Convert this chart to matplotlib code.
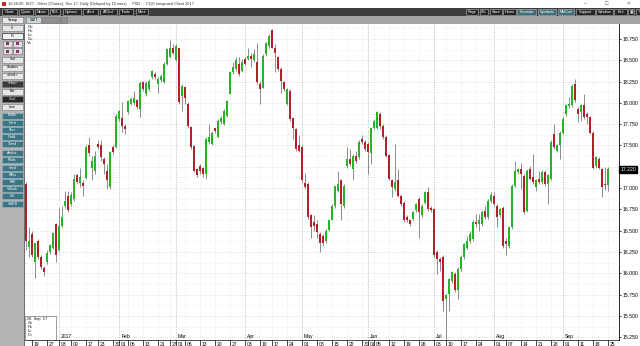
import pandas as pd
import matplotlib
matplotlib.use("Agg")
import matplotlib.pyplot as plt
from matplotlib.patches import Rectangle

plt.rcParams['font.family'] = ['Liberation Sans', 'DejaVu Sans']

# daily OHLC, SIZ7 (Silver, Dec 17)
opens = [17.05, 16.31, 16.46, 16.13, 16.38, 16.19, 16.06, 16.13, 16.25, 16.30,
         16.58, 16.27, 16.56, 16.79, 16.91, 16.81, 16.87, 17.15, 17.06, 17.06,
         17.12, 17.50, 17.24, 17.20, 17.52, 17.50, 17.34, 17.20, 17.01, 17.48,
         17.48, 17.81, 17.82, 17.73, 17.89, 17.99, 18.00, 18.03, 17.93, 18.24,
         18.10, 18.16, 18.30, 18.34, 18.22, 18.27, 18.24, 18.46, 18.54, 18.65,
         18.50, 18.64, 18.08, 18.19, 17.99, 17.72, 17.49, 17.22, 17.26, 17.24,
         17.17, 17.54, 17.52, 17.70, 17.60, 17.77, 17.75, 17.85, 18.10, 18.36,
         18.40, 18.46, 18.38, 18.52, 18.51, 18.55, 18.50, 18.48, 18.22, 18.18,
         18.57, 18.67, 18.86, 18.65, 18.54, 18.40, 18.24, 17.99, 18.14, 17.82,
         17.69, 17.50, 17.48, 17.06, 17.05, 16.68, 16.60, 16.58, 16.46, 16.44,
         16.38, 16.51, 16.63, 16.79, 16.97, 17.09, 16.79, 17.26, 17.34, 17.22,
         17.38, 17.36, 17.58, 17.54, 17.52, 17.41, 17.71, 17.71, 17.87, 17.73,
         17.60, 17.39, 17.09, 16.99, 17.09, 16.91, 16.83, 16.66, 16.62, 16.64,
         16.74, 16.87, 16.68, 16.83, 16.96, 16.77, 16.76, 16.25, 16.17, 16.19,
         15.70, 15.76, 15.91, 15.99, 15.80, 16.05, 16.19, 16.30, 16.38, 16.40,
         16.60, 16.58, 16.58, 16.73, 16.66, 16.85, 16.91, 16.79, 16.68, 16.77,
         16.38, 16.32, 16.54, 17.03, 17.19, 17.22, 17.14, 16.73, 17.22, 17.13,
         17.01, 17.11, 17.07, 17.19, 17.05, 17.11, 17.64, 17.44, 17.50, 17.65,
         17.87, 17.96, 17.97, 18.22, 17.93, 17.89, 17.97, 17.87, 17.83, 17.65,
         17.26, 17.34, 17.22, 17.05, 17.04]
highs = [17.07, 16.54, 16.50, 16.36, 16.40, 16.21, 16.08, 16.27, 16.34, 16.48,
         16.59, 16.77, 16.79, 16.97, 16.97, 16.95, 17.17, 17.17, 17.24, 17.09,
         17.50, 17.60, 17.38, 17.44, 17.56, 17.56, 17.36, 17.28, 17.44, 17.50,
         17.87, 17.92, 18.01, 17.75, 18.03, 18.07, 18.14, 18.05, 18.26, 18.26,
         18.26, 18.28, 18.39, 18.36, 18.30, 18.34, 18.48, 18.65, 18.74, 18.69,
         18.69, 18.65, 18.22, 18.20, 18.01, 17.73, 17.50, 17.24, 17.28, 17.25,
         17.60, 17.75, 17.67, 17.71, 17.81, 17.85, 17.93, 18.03, 18.38, 18.48,
         18.54, 18.54, 18.52, 18.54, 18.65, 18.59, 18.63, 18.70, 18.26, 18.57,
         18.71, 18.81, 18.87, 18.69, 18.55, 18.42, 18.26, 18.18, 18.16, 17.83,
         17.71, 17.62, 17.50, 17.18, 17.07, 16.70, 16.68, 16.62, 16.48, 16.46,
         16.52, 16.64, 16.81, 17.03, 17.20, 17.11, 17.05, 17.48, 17.46, 17.40,
         17.44, 17.56, 17.62, 17.56, 17.54, 17.71, 17.81, 17.91, 17.89, 17.75,
         17.62, 17.40, 17.11, 17.52, 17.22, 16.93, 16.85, 16.68, 16.64, 16.73,
         16.83, 16.89, 16.81, 16.97, 17.01, 16.79, 16.77, 16.27, 16.19, 16.21,
         15.76, 15.95, 16.03, 16.01, 16.07, 16.21, 16.36, 16.44, 16.50, 16.62,
         16.70, 16.70, 16.74, 16.79, 16.87, 16.95, 16.95, 16.81, 16.77, 16.79,
         16.42, 16.56, 17.05, 17.32, 17.24, 17.30, 17.17, 17.22, 17.26, 17.40,
         17.11, 17.20, 17.21, 17.21, 17.17, 17.56, 17.75, 17.52, 17.67, 17.83,
         17.99, 18.07, 18.22, 18.28, 17.95, 17.99, 18.10, 17.89, 17.85, 17.67,
         17.38, 17.36, 17.24, 17.25, 17.25]
lows = [16.27, 16.19, 16.19, 15.95, 16.17, 16.05, 15.97, 16.11, 16.23, 16.29,
        16.13, 16.26, 16.54, 16.77, 16.72, 16.79, 16.85, 17.05, 17.01, 16.91,
        17.11, 17.38, 17.09, 17.17, 17.46, 17.32, 17.17, 16.99, 16.99, 17.40,
        17.47, 17.79, 17.66, 17.64, 17.87, 17.97, 17.97, 17.93, 17.84, 18.14,
        18.08, 18.14, 18.28, 18.28, 18.12, 18.25, 18.23, 18.45, 18.53, 18.57,
        18.49, 17.99, 17.91, 17.99, 17.71, 17.46, 17.19, 17.13, 17.17, 17.13,
        17.11, 17.52, 17.50, 17.65, 17.59, 17.75, 17.74, 17.84, 18.10, 18.34,
        18.38, 18.32, 18.36, 18.44, 18.50, 18.42, 18.48, 18.22, 17.99, 18.17,
        18.55, 18.65, 18.64, 18.36, 18.38, 18.12, 18.14, 17.97, 17.79, 17.58,
        17.44, 17.42, 17.07, 16.99, 16.64, 16.42, 16.50, 16.42, 16.25, 16.32,
        16.36, 16.50, 16.62, 16.77, 16.95, 16.62, 16.77, 17.24, 17.26, 17.09,
        17.30, 17.34, 17.52, 17.44, 17.17, 17.28, 17.69, 17.69, 17.69, 17.58,
        17.36, 17.09, 16.89, 16.97, 16.89, 16.79, 16.60, 16.60, 16.56, 16.62,
        16.72, 16.42, 16.66, 16.81, 16.73, 16.72, 16.19, 15.99, 16.03, 15.56,
        15.23, 15.56, 15.89, 15.78, 15.70, 16.03, 16.17, 16.29, 16.36, 16.38,
        16.54, 16.50, 16.56, 16.64, 16.64, 16.83, 16.79, 16.54, 16.66, 16.30,
        16.21, 16.30, 16.52, 17.01, 17.17, 16.99, 16.70, 16.72, 17.09, 17.05,
        16.97, 17.05, 17.05, 17.03, 16.81, 17.09, 17.46, 17.42, 17.34, 17.64,
        17.85, 17.94, 17.95, 18.01, 17.77, 17.79, 17.81, 17.75, 17.64, 17.22,
        17.24, 17.22, 16.89, 16.98, 16.97]
closes = [16.38, 16.38, 16.21, 16.36, 16.19, 16.07, 16.01, 16.24, 16.33, 16.47,
          16.21, 16.56, 16.66, 16.85, 16.74, 16.92, 17.11, 17.07, 17.13, 17.03,
          17.48, 17.41, 17.32, 17.38, 17.48, 17.36, 17.28, 17.09, 17.42, 17.42,
          17.85, 17.90, 17.73, 17.69, 18.02, 18.05, 18.06, 17.95, 18.23, 18.16,
          18.23, 18.26, 18.38, 18.30, 18.28, 18.32, 18.46, 18.63, 18.64, 18.59,
          18.67, 18.01, 18.20, 18.06, 17.73, 17.48, 17.20, 17.15, 17.20, 17.17,
          17.58, 17.60, 17.65, 17.67, 17.79, 17.82, 17.91, 18.02, 18.36, 18.42,
          18.50, 18.34, 18.48, 18.46, 18.55, 18.51, 18.57, 18.24, 18.16, 18.55,
          18.70, 18.79, 18.65, 18.59, 18.40, 18.26, 18.16, 18.16, 17.81, 17.71,
          17.46, 17.44, 17.09, 17.01, 16.66, 16.54, 16.56, 16.48, 16.36, 16.36,
          16.50, 16.62, 16.79, 17.02, 17.05, 16.81, 17.03, 17.34, 17.28, 17.38,
          17.32, 17.54, 17.54, 17.46, 17.42, 17.71, 17.79, 17.89, 17.73, 17.60,
          17.38, 17.11, 17.01, 17.07, 16.91, 16.81, 16.62, 16.62, 16.58, 16.72,
          16.81, 16.72, 16.79, 16.95, 16.76, 16.74, 16.21, 16.17, 16.13, 15.68,
          15.74, 15.93, 16.01, 15.80, 16.05, 16.19, 16.34, 16.38, 16.46, 16.60,
          16.58, 16.62, 16.72, 16.66, 16.85, 16.92, 16.81, 16.66, 16.75, 16.32,
          16.34, 16.54, 17.03, 17.20, 17.22, 17.16, 16.72, 17.20, 17.11, 17.07,
          17.09, 17.07, 17.19, 17.05, 17.15, 17.54, 17.48, 17.50, 17.65, 17.81,
          17.97, 17.99, 18.20, 18.03, 17.87, 17.97, 17.83, 17.83, 17.65, 17.24,
          17.36, 17.24, 17.01, 17.04, 17.22]

holidays = ['2016-12-26', '2017-01-02', '2017-01-16', '2017-02-20', '2017-04-14',
            '2017-05-29', '2017-07-04', '2017-09-04']
dates = pd.bdate_range('2016-12-15', '2017-09-25', freq='C', holidays=holidays)

day_ticks = ['2016-12-19', '2016-12-27', '2017-01-03', '2017-01-09', '2017-01-17',
             '2017-01-23', '2017-01-30', '2017-02-01', '2017-02-06', '2017-02-13',
             '2017-02-21', '2017-02-27', '2017-03-01', '2017-03-06', '2017-03-13',
             '2017-03-20', '2017-03-27', '2017-04-03', '2017-04-10', '2017-04-17',
             '2017-04-24', '2017-05-01', '2017-05-08', '2017-05-15', '2017-05-22',
             '2017-05-30', '2017-06-01', '2017-06-05', '2017-06-12', '2017-06-19',
             '2017-06-26', '2017-07-03', '2017-07-10', '2017-07-17', '2017-07-24',
             '2017-08-01', '2017-08-07', '2017-08-14', '2017-08-21', '2017-08-28',
             '2017-09-01', '2017-09-11', '2017-09-18', '2017-09-25']
month_ticks = ['2017-01-03', '2017-02-01', '2017-03-01', '2017-04-03', '2017-05-01',
               '2017-06-01', '2017-07-03', '2017-08-01', '2017-09-01']
month_names = ['2017', 'Feb', 'Mar', 'Apr', 'May', 'Jun', 'Jul', 'Aug', 'Sep']
price_ticks = [15.25, 15.5, 15.75, 16.0, 16.25, 16.5, 16.75, 17.0, 17.25, 17.5,
               17.75, 18.0, 18.25, 18.5, 18.75]
last_price = 17.22

menu_left = ['Chart', 'Quote', 'News', 'T&S', 'Options', 'Alert', 'AllOrd', 'Trade', 'More']
menu_right = ['Page', '#%', 'Save', 'Home', 'Formula', 'Symbols', 'MktCon', 'Support',
              'Window', 'Exit', '\u25a3', '?']
side_light = ['Scrl', 'Studies', '<Settl>']
side_teal = ['FibBk', 'Herrt', 'Text', 'Grd&', 'Trend', 'Andrw', 'Rhds', 'Hred',
             'PAks', 'RSI', 'VMack', 'Vol', 'VolRS']

W, H = 640, 346
fig = plt.figure(figsize=(W / 100, H / 100), dpi=100)

# ---- window chrome, drawn in pixel coordinates ----
bg = fig.add_axes([0, 0, 1, 1])
bg.set_xlim(0, W)
bg.set_ylim(H, 0)
bg.axis('off')


def box(x, y, w, h, fc, ec='none', lw=0.5):
    bg.add_patch(Rectangle((x, y), w, h, facecolor=fc, edgecolor=ec, linewidth=lw))


def label(x, y, s, size=3.2, color='black', ha='center'):
    bg.text(x, y, s, fontsize=size, color=color, ha=ha, va='center')


box(0, 0, W, H, 'white')
label(8, 3.5, '16:56:00  SIZ7 - Silver (Globex), Dec 17, Daily (Delayed by 10 mins)  \u00b7  PI02  \u00b7  CQG Integrated Client 2017',
      size=2.8, ha='left', color='#333333')
box(1.5, 1.5, 4, 4, '#c03030')
label(585, 3.5, '\u2013', size=4, color='#555555')
label(607, 3.5, '\u25a1', size=4, color='#555555')
label(628, 3.5, '\u00d7', size=4.5, color='#555555')

box(0, 7.5, W, 8.5, '#3d3d3d')
mx = 2
for name in menu_left:
    w = 4 + 2.1 * len(name)
    box(mx, 9, w, 6, '#262626', ec='#bdbdbd', lw=0.4)
    label(mx + w / 2, 12, name, size=2.8, color='white')
    mx += w + 2.2
mx = 466
for name in menu_right:
    w = 4 + 2.1 * len(name)
    fc = '#3e6e7a' if name in ('Formula', 'Symbols', 'MktCon') else '#262626'
    box(mx, 9, w, 6, fc, ec='#bdbdbd', lw=0.4)
    label(mx + w / 2, 12, name, size=2.8, color='white')
    mx += w + 1.5

box(0, 16, W, 8, '#a3a3a3')
box(2, 17, 21, 6, '#e6e6e6', ec='#777777', lw=0.4)
label(12.5, 20, 'Setup', size=2.8)
box(26, 17, 15, 6, '#c9d3da', ec='#777777', lw=0.4)
label(33.5, 20, 'SIZ7', size=2.8)
box(42, 17, 18, 6, '#8f8f8f', ec='#777777', lw=0.4)
box(61, 17, 6, 6, '#8f8f8f', ec='#777777', lw=0.4)

# left tool panel
box(0, 24, 25, H - 24, '#b3b3b3')
box(24, 24, 1, H - 24, '#6f6f6f')
box(2, 25, 21, 6, '#e6e6e6', ec='#777777', lw=0.4)
label(12.5, 28, 'lll', size=2.6)
box(2, 32.5, 21, 6.5, '#f2f2f2', ec='#333333', lw=0.5)
label(12.5, 35.8, 'R', size=2.8)
for yy in (40.5, 48):
    for xx in (3, 13):
        box(xx, yy, 9, 6, '#dedede', ec='#777777', lw=0.4)
        box(xx + 3, yy + 1.5, 3, 3, '#8a2f6a')
sy = 56.5
for name in side_light:
    box(2, sy, 21, 6, '#e6e6e6', ec='#777777', lw=0.4)
    label(12.5, sy + 3, name, size=2.6)
    sy += 8
box(2, sy, 21, 6, '#3a3a3a', ec='#777777', lw=0.4)
label(12.5, sy + 3, '<Hot>', size=2.6, color='white')
sy += 8
for name, fc, tc in (('Bar', '#e6e6e6', 'black'), ('Cndl', '#262626', 'white'),
                     ('Line', '#e6e6e6', 'black')):
    box(2, sy, 21, 6, fc, ec='#777777', lw=0.4)
    label(12.5, sy + 3, name, size=2.6, color=tc)
    sy += 7.5
sy += 1.5
for k, name in enumerate(side_teal):
    box(2, sy, 21, 6, '#3c7585', ec='#9cb7bf', lw=0.4)
    label(12.5, sy + 3, name, size=2.6, color='white')
    sy += 7.2 if k != 4 else 9

# ---- price chart ----
left, right, top, bottom = 25, 619, 24, 339.5
ax = fig.add_axes([left / W, 1 - bottom / H, (right - left) / W, (bottom - top) / H])
ax.set_zorder(2)
ax.set_facecolor('white')

idx = list(range(len(closes)))
pos = {d.strftime('%Y-%m-%d'): i for i, d in enumerate(dates)}
day_pos = [pos[d] for d in day_ticks]
month_pos = [pos[d] for d in month_ticks]

# grid
for p in price_ticks:
    ax.axhline(p, color='#c8c8c8', lw=0.5, ls=(0, (1, 2)), zorder=0)
    ax.axhline(p + 0.125, color='#e2e2e2', lw=0.5, ls=(0, (1, 2)), zorder=0)
for d in day_pos:
    ax.axvline(d, color='#d9d9d9', lw=0.5, ls=(0, (1, 2)), zorder=0)
for d in month_pos:
    ax.axvline(d, color='#b5b5b5', lw=0.6, ls=(0, (1, 2)), zorder=0)

up = [c >= o for o, c in zip(opens, closes)]
ax.vlines(idx, lows, highs, color='#7a7a7a', lw=0.6, zorder=2)
body_lo = [min(o, c) for o, c in zip(opens, closes)]
body_h = [max(abs(c - o), 0.012) for o, c in zip(opens, closes)]
colors = ['#25b425' if u else '#b3202a' for u in up]
ax.bar(idx, body_h, bottom=body_lo, width=0.7, color=colors, linewidth=0, zorder=3)

ax.set_xlim(-0.25, 197.8)
ax.set_ylim(15.223, 18.926)

ax.yaxis.tick_right()
ax.set_yticks(price_ticks)
ax.set_yticklabels(['%.3f' % p if p != 17.25 else '' for p in price_ticks])
ax.tick_params(axis='y', labelsize=3.7, length=1.5, width=0.5, pad=1.2, colors='black')
ax.set_xticks(day_pos)
ax.set_xticklabels([])
ax.tick_params(axis='x', length=5, width=0.5, direction='out', color='black')
for s in ('top', 'left'):
    ax.spines[s].set_visible(False)
ax.spines['right'].set_linewidth(0.6)
ax.spines['bottom'].set_linewidth(0.5)

xt = ax.get_xaxis_transform()
for d, s in zip(day_ticks, day_pos):
    ax.text(s + 0.6, -0.008, d[-2:], transform=xt, fontsize=3.6, ha='left', va='top')
for name, s in zip(month_names, month_pos):
    ax.text(s + 0.8, 0.002, name, transform=xt, fontsize=3.6, ha='left', va='bottom')

# last price marker
ax.text(1.002, last_price, '%.3f' % last_price, transform=ax.get_yaxis_transform(),
        fontsize=3.7, color='white', ha='left', va='center',
        bbox=dict(boxstyle='square,pad=0.25', fc='black', ec='black'))

# data boxes
ax.text(0.004, 0.998, 'O=\nH=\nL=\nC=\nV=', transform=ax.transAxes, fontsize=3.0,
        ha='left', va='top', linespacing=1.05)
ax.add_patch(Rectangle((0, 0.0), 0.052, 0.075, transform=ax.transAxes,
                       facecolor='white', edgecolor='#555555', lw=0.4, zorder=4))
ax.text(0.004, 0.072, '26  Sep  17\nO=\nH=\nL=\nC=', transform=ax.transAxes,
        fontsize=2.8, ha='left', va='top', linespacing=1.0, zorder=5)

fig.savefig('out.png', dpi=100)
